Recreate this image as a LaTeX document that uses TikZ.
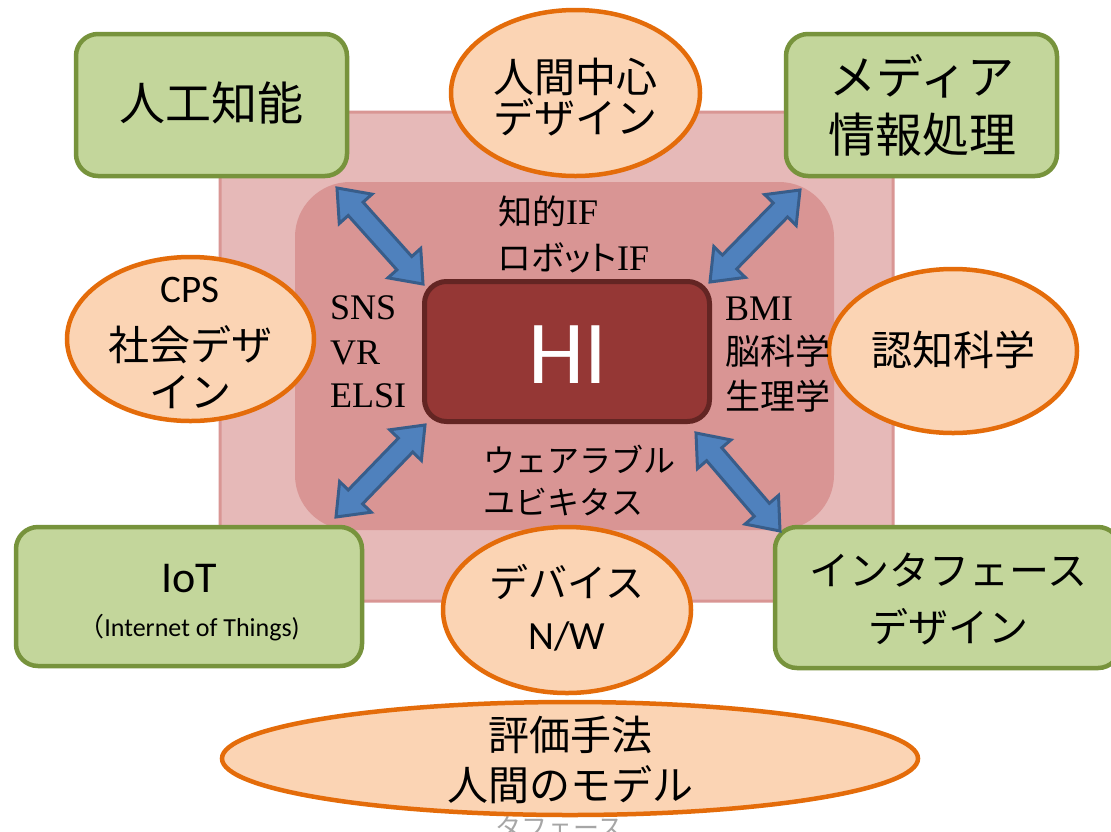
\documentclass[tikz,border=0pt]{standalone}
\usepackage{fontspec}
\setmainfont{Carlito}
\newfontfamily\jp{Noto Sans CJK JP}
\newfontfamily\jpp[RawFeature=+palt]{Noto Sans CJK JP}
\newfontfamily\tms{Liberation Serif}
\usetikzlibrary{calc,shapes.geometric}
\definecolor{gfill}{HTML}{C3D69B}
\definecolor{gline}{HTML}{77933C}
\definecolor{ofill}{HTML}{FBD4B4}
\definecolor{oline}{HTML}{E46C0A}
\definecolor{poutfill}{HTML}{E6B9B8}
\definecolor{poutline}{HTML}{D99694}
\definecolor{pinfill}{HTML}{D99594}
\definecolor{hifill}{HTML}{953735}
\definecolor{hiline}{HTML}{632523}
\definecolor{afill}{HTML}{4F81BD}
\definecolor{aline}{HTML}{385D8A}
\definecolor{graytxt}{HTML}{A6A6A6}
\newcommand\fs[1]{\fontsize{#1}{#1}\selectfont}
\newcommand\dblarr[2]{%
  \filldraw[harrow] (#1) -- ($(#1)!35.6pt!38.2:(#2)$) -- ($(#1)!29.7pt!19.65:(#2)$)
   -- ($(#2)!29.7pt!-19.65:(#1)$) -- ($(#2)!35.6pt!-38.2:(#1)$) -- (#2)
   -- ($(#2)!35.6pt!38.2:(#1)$) -- ($(#2)!29.7pt!19.65:(#1)$)
   -- ($(#1)!29.7pt!-19.65:(#2)$) -- ($(#1)!35.6pt!-38.2:(#2)$) -- cycle;}
\tikzset{
  gbox/.style={draw=gline, fill=gfill, line width=4.5pt, rounded corners=22pt, inner sep=0pt},
  oell/.style={ellipse, draw=oline, fill=ofill, line width=4.5pt, inner sep=0pt},
  harrow/.style={fill=afill, draw=aline, line width=3pt, line join=miter},
  txt/.style={inner sep=0pt, anchor=base},
  ltxt/.style={inner sep=0pt, anchor=base west},
}
\begin{document}
\begin{tikzpicture}[x=1pt, y=-1pt]
\useasboundingbox (0,0) rectangle (1111,831);
\clip (0,0) rectangle (1111,831);
\fill[white] (0,0) rectangle (1111,831);

% background regions
\filldraw[fill=poutfill, draw=poutline, line width=3pt, rounded corners=5pt] (220,112) rectangle (893,601);
\fill[pinfill, rounded corners=55pt] (295,182) rectangle (834,530);

% grey text partly hidden
\node[ltxt, font=\jp\fs{26}, text=graytxt] (tgray) at (495,837) {タフェース};

% outer shapes
\node[gbox, minimum width=271pt, minimum height=142pt] (ai) at (211.5,105) {};
\node[gbox, minimum width=271pt, minimum height=142pt] (media) at (921.5,105) {};
\node[gbox, minimum width=346pt, minimum height=139pt] (iot) at (189,596.5) {};
\node[gbox, minimum width=345pt, minimum height=141pt] (intf) at (947.5,597.5) {};
\node[oell, minimum width=249pt, minimum height=166pt] (hcd) at (575.5,93) {};
\node[oell, minimum width=247pt, minimum height=164pt] (cps) at (190.5,339) {};
\node[oell, minimum width=248pt, minimum height=164pt] (cog) at (953,351) {};
\node[oell, minimum width=248pt, minimum height=166pt] (dev) at (567,610) {};
\node[oell, minimum width=696pt, minimum height=113pt] (eval) at (570,758.5) {};
\node[draw=hiline, fill=hifill, line width=5pt, rounded corners=22pt, minimum width=285pt, minimum height=140pt, inner sep=0pt] (hi) at (567,351.5) {};

% texts in shapes
\node[txt, font=\jp\fs{46}] (tai) at (211.5,120.5) {人工知能};
\node[txt, font=\jp\fs{41}] (thcd1) at (575.5,92.6) {人間中心};
\node[txt, font=\jp\fs{41}] (thcd2) at (575.5,133.6) {デザイン};
\node[txt, font=\jp\fs{47}] (tmed1) at (922,94.9) {メディア};
\node[txt, font=\jp\fs{47}] (tmed2) at (922,152.9) {情報処理};
\node[txt, font=\fs{39}] (tcps1) at (190,302.6) {CPS};
\node[txt, font=\jp\fs{41}] (tcps2) at (190,360.6) {社会デザ};
\node[txt, font=\jp\fs{41}] (tcps3) at (190,407.6) {イン};
\node[txt, font=\jp\fs{41}] (tcog) at (953,365.6) {認知科学};
\node[txt, font=\fs{44}] (tiot1) at (189,592) {IoT};
\node[txt, font=\fs{26}] (tiot2) at (189,636) {{\jp （}Internet of Things)};
\node[txt, font=\jp\fs{39}] (tdev1) at (567,597.8) {デバイス};
\node[txt, font=\fs{40}] (tdev2) at (567,649.9) {N/W};
\node[txt, font=\jp\fs{40}] (tint1) at (948,585.2) {インタフェース};
\node[txt, font=\jp\fs{40}] (tint2) at (948,642.2) {デザイン};
\node[txt, font=\jp\fs{41}] (tev1) at (570,750.6) {評価手法};
\node[txt, font=\jp\fs{41}] (tev2) at (570,800.6) {人間のモデル};
\node[txt, font=\fs{90}, text=white] (thi) at (568,383) {HI};

% texts around HI
\node[ltxt] (tif1) at (498,224.5) {{\jp\fs{34}知的}{\tms\fs{36}IF}};
\node[ltxt] (tif2) at (498,270.5) {{\jpp\fs{34}ロボット}{\tms\fs{36}IF}};
\node[ltxt, font=\tms\fs{36}] (tsns) at (330,319) {SNS};
\node[ltxt, font=\tms\fs{36}] (tvr) at (330,364) {VR};
\node[ltxt, font=\tms\fs{36}] (telsi) at (330,407) {ELSI};
\node[ltxt, font=\tms\fs{36}] (tbmi) at (725,320) {BMI};
\node[ltxt, font=\jp\fs{35}] (tbrain) at (725,364.5) {脳科学};
\node[ltxt, font=\jp\fs{35}] (tphys) at (725,409.5) {生理学};
\node[ltxt, font=\jp\fs{32}] (twear) at (483,472.5) {ウェアラブル};
\node[ltxt, font=\jp\fs{32}] (tubiq) at (483,514.5) {ユビキタス};

% double arrows
\coordinate (a1) at (337,188);
\coordinate (a2) at (423,284);
\coordinate (b1) at (800,190);
\coordinate (b2) at (710,282);
\coordinate (c1) at (425,425);
\coordinate (c2) at (336,517);
\coordinate (d1) at (696,433);
\coordinate (d2) at (780,531);
\dblarr{a1}{a2}
\dblarr{b1}{b2}
\dblarr{c1}{c2}
\dblarr{d1}{d2}
\end{tikzpicture}
\end{document}
